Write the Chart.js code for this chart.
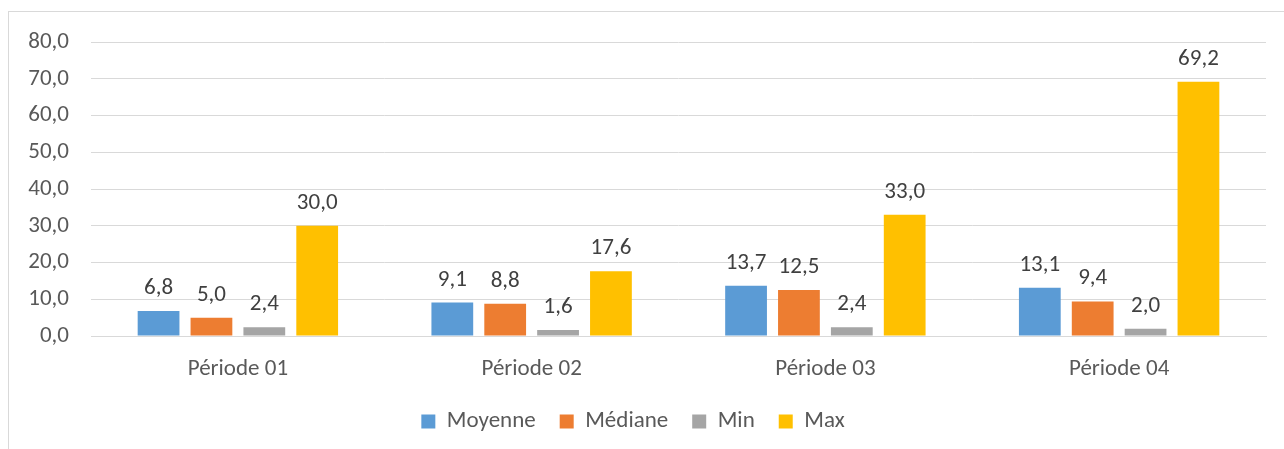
<!DOCTYPE html>
<html>
<head>
<meta charset="utf-8">
<script src="https://cdn.jsdelivr.net/npm/chart.js@4.4.1/dist/chart.umd.min.js"></script>
<style>
  html, body { margin: 0; padding: 0; background: #fff; overflow: hidden; }
  #frame { position: absolute; left: 8px; top: 11px; width: 1290px; height: 450px; border: 1px solid #d9d9d9; }
  #wrap { position: absolute; left: 0; top: 0; width: 1284px; height: 449px; }
</style>
</head>
<body>
<div id="frame"></div>
<div id="wrap"><canvas id="chart"></canvas></div>
<script>
// Données
const periodes = ['Période 01', 'Période 02', 'Période 03', 'Période 04'];
const moyenne = [6.8, 9.1, 13.7, 13.1];
const mediane = [5.0, 8.8, 12.5, 9.4];
const minVals = [2.4, 1.6, 2.4, 2.0];
const maxVals = [30.0, 17.6, 33.0, 69.2];
const yTicks = [0, 10, 20, 30, 40, 50, 60, 70, 80];

const TEXT = '#595959';
const FONT = 'Calibri, Carlito, "Open Sans", sans-serif';
const SIZE = 23;

const fmt = v => v.toFixed(1).replace('.', ',');

// étiquettes de valeurs au-dessus des barres
const valueLabels = {
  id: 'valueLabels',
  afterDatasetsDraw(chart) {
    const ctx = chart.ctx;
    ctx.save();
    ctx.font = SIZE + 'px ' + FONT;
    ctx.fillStyle = '#404040';
    ctx.textAlign = 'center';
    ctx.textBaseline = 'alphabetic';
    chart.data.datasets.forEach((ds, i) => {
      const meta = chart.getDatasetMeta(i);
      meta.data.forEach((bar, j) => {
        ctx.fillText(fmt(ds.data[j]), bar.x, bar.y - 17);
      });
    });
    ctx.restore();
  }
};

new Chart(document.getElementById('chart'), {
  type: 'bar',
  data: {
    labels: periodes,
    datasets: [
      { label: 'Moyenne', data: moyenne, backgroundColor: '#5B9BD5' },
      { label: 'Médiane', data: mediane, backgroundColor: '#ED7D31' },
      { label: 'Min', data: minVals, backgroundColor: '#A5A5A5' },
      { label: 'Max', data: maxVals, backgroundColor: '#FFC000' },
    ]
  },
  options: {
    responsive: true,
    maintainAspectRatio: false,
    animation: false,
    datasets: { bar: { categoryPercentage: 0.72, barPercentage: 0.79 } },
    layout: { padding: { top: 42, right: 18, left: 0, bottom: 6 } },
    plugins: {
      tooltip: { enabled: false },
      legend: {
        position: 'bottom',
        labels: {
          color: TEXT,
          font: { family: FONT, size: SIZE },
          boxWidth: 14,
          boxHeight: 14,
          padding: 24,
        }
      }
    },
    scales: {
      x: {
        afterFit: s => { s.height = 50; },
        grid: { display: false, drawTicks: false },
        border: { color: '#d9d9d9', width: 1 },
        ticks: { color: TEXT, font: { family: FONT, size: SIZE }, padding: 19 },
      },
      y: {
        min: 0,
        max: 80,
        afterFit: s => { s.width = 91; },
        afterBuildTicks: s => { s.ticks = yTicks.map(v => ({ value: v })); },
        grid: { color: '#d9d9d9', drawTicks: false },
        border: { display: false },
        ticks: {
          color: TEXT,
          font: { family: FONT, size: SIZE },
          padding: 22,
          callback: v => fmt(v),
        }
      }
    }
  },
  plugins: [valueLabels]
});
</script>
</body>
</html>
